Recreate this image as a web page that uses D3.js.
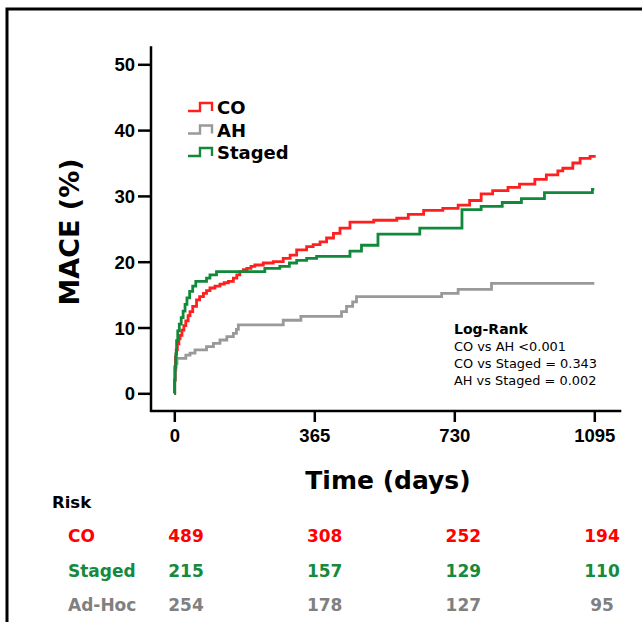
<!DOCTYPE html>
<html>
<head>
<meta charset="utf-8">
<script src="https://cdn.jsdelivr.net/npm/d3@7"></script>
<style>
  body { margin: 0; background: #fff; }
  svg { display: block; font-family: "DejaVu Sans", Verdana, sans-serif; }
  .axis text { font-weight: bold; font-size: 18.5px; fill: #000; }
  .axis line { stroke: #000; stroke-width: 2.5; }
</style>
</head>
<body>
<div id="chart"></div>
<script>
// tick values
var timeTicks = [0, 365, 730, 1095];
var maceTicks = [0, 10, 20, 30, 40, 50];

// CO curve (days, cumulative MACE %)
var coTimes = [0, 1, 2, 3, 5, 8, 12, 15, 20, 25, 30, 36, 41, 48, 58, 66, 76, 84, 93, 106, 119, 130, 141, 154, 163, 171, 180, 189, 200, 210, 232, 258, 284, 302, 319, 345, 362, 380, 397, 415, 432, 458, 520, 580, 610, 650, 700, 740, 770, 800, 830, 870, 900, 940, 970, 1000, 1013, 1039, 1058, 1084, 1095];
var coValues = [0, 2, 4, 5.5, 6.6, 7.5, 8.3, 8.8, 9.6, 10.3, 11, 11.8, 12.4, 13.2, 14.2, 14.7, 15.2, 15.6, 16, 16.3, 16.6, 16.8, 17, 17.5, 18, 18.5, 18.8, 19, 19.3, 19.5, 19.8, 20, 20.5, 21, 21.8, 22.3, 22.6, 23, 23.6, 24.3, 25.1, 26, 26.3, 26.6, 27.2, 27.8, 28.1, 28.6, 29.3, 30.3, 30.8, 31.3, 31.8, 32.5, 33.2, 33.8, 34.2, 35, 35.7, 36, 36.2];

// AH curve
var ahTimes = [0, 1, 2, 4, 7, 30, 41, 54, 84, 102, 119, 137, 154, 162, 167, 284, 330, 436, 449, 465, 475, 697, 740, 827, 1095];
var ahValues = [0, 2, 3.5, 4.5, 5.3, 5.8, 6.1, 6.6, 7.1, 7.6, 8.1, 8.6, 9.1, 9.7, 10.4, 11.1, 11.7, 12.4, 13.2, 13.9, 14.7, 15.2, 15.8, 16.7, 16.7];

// Staged curve
var stagedTimes = [0, 1, 2, 4, 6, 9, 13, 18, 23, 28, 33, 40, 48, 56, 84, 93, 110, 236, 275, 300, 319, 345, 371, 458, 488, 531, 640, 750, 800, 855, 905, 965, 1090, 1095];
var stagedValues = [0, 2, 4, 6, 8, 9.5, 10.5, 11.5, 12.5, 13.5, 14.5, 15.5, 16.3, 17, 17.5, 18, 18.5, 19, 19.3, 19.8, 20.2, 20.5, 20.8, 21.6, 22.5, 24.2, 25.1, 27.9, 28.4, 29, 29.6, 30.5, 31, 31];

// legend and risk table
var seriesNames = ["CO", "AH", "Staged"];
var seriesColors = ["#ff1f1f", "#999999", "#108a3a"];
var logRankLines = ["CO vs AH <0.001", "CO vs Staged = 0.343", "AH vs Staged = 0.002"];
var riskGroups = ["CO", "Staged", "Ad-Hoc"];
var riskColors = ["#ff0000", "#158a3c", "#808080"];
var riskCO = [489, 308, 252, 194];
var riskStaged = [215, 157, 129, 110];
var riskAdHoc = [254, 178, 127, 95];

var width = 642, height = 622;

var svg = d3.select("#chart").append("svg")
  .attr("width", width)
  .attr("height", height);

// frame
svg.append("path")
  .attr("d", "M7," + (height + 5) + "V9H" + (width + 5))
  .attr("fill", "none")
  .attr("stroke", "#000")
  .attr("stroke-width", 3);

var x = d3.scaleLinear().domain([0, 1095]).range([174.3, 594.3]);
var y = d3.scaleLinear().domain([0, 50]).range([393.3, 64.3]);

var axisX = 151, axisY = 411;

// y axis
var yAxis = svg.append("g")
  .attr("class", "axis")
  .attr("transform", "translate(" + axisX + ",0)")
  .call(d3.axisLeft(y).tickValues(maceTicks).tickSize(13).tickPadding(3));
yAxis.select(".domain").remove();
yAxis.selectAll("text").attr("dy", "0.36em");

// x axis
var xAxis = svg.append("g")
  .attr("class", "axis")
  .attr("transform", "translate(0," + axisY + ")")
  .call(d3.axisBottom(x).tickValues(timeTicks).tickFormat(d3.format("d")).tickSize(11).tickPadding(7));
xAxis.select(".domain").remove();

// axis lines
svg.append("line")
  .attr("x1", axisX).attr("x2", axisX)
  .attr("y1", y(50) - 18).attr("y2", axisY + 1)
  .attr("stroke", "#000").attr("stroke-width", 2.5);
svg.append("line")
  .attr("x1", axisX - 1).attr("x2", x(1095) + 27)
  .attr("y1", axisY).attr("y2", axisY)
  .attr("stroke", "#000").attr("stroke-width", 2.5);

// axis titles
svg.append("text")
  .text("Time (days)")
  .attr("x", 388)
  .attr("y", 489)
  .attr("text-anchor", "middle")
  .attr("font-weight", "bold")
  .attr("font-size", 25);

svg.append("text")
  .text("MACE (%)")
  .attr("transform", "translate(79,232) rotate(-90)")
  .attr("text-anchor", "middle")
  .attr("font-weight", "bold")
  .attr("font-size", 27);

// curves
var series = [
  { times: coTimes, values: coValues },
  { times: ahTimes, values: ahValues },
  { times: stagedTimes, values: stagedValues }
];

var line = d3.line()
  .x(function (d) { return x(d[0]); })
  .y(function (d) { return y(d[1]); })
  .curve(d3.curveStepAfter);

// draw AH first, then CO, then Staged on top
[1, 0, 2].forEach(function (k) {
  var s = series[k];
  var pts = s.times.map(function (t, i) { return [t, s.values[i]]; });
  svg.append("path")
    .datum(pts)
    .attr("d", line)
    .attr("fill", "none")
    .attr("stroke", seriesColors[k])
    .attr("stroke-width", 2.8);
});

// legend
var legend = svg.selectAll(".legend")
  .data(seriesNames)
  .enter()
  .append("g")
  .attr("class", "legend")
  .attr("transform", function (d, i) {
    return "translate(188," + (114 + i * 22.5) + ")";
  });

legend.append("path")
  .attr("d", "M0,-3H12V-11H24V-3")
  .attr("fill", "none")
  .attr("stroke", function (d, i) { return seriesColors[i]; })
  .attr("stroke-width", 2.4);

legend.append("text")
  .text(function (d) { return d; })
  .attr("x", 29)
  .attr("y", 0)
  .attr("font-weight", "bold")
  .attr("font-size", 18);

// log-rank box
svg.append("text")
  .text("Log-Rank")
  .attr("x", 454)
  .attr("y", 334)
  .attr("font-weight", "bold")
  .attr("font-size", 14);

svg.selectAll(".logrank")
  .data(logRankLines)
  .enter()
  .append("text")
  .attr("class", "logrank")
  .text(function (d) { return d; })
  .attr("x", 454)
  .attr("y", function (d, i) { return 351 + i * 17; })
  .attr("font-size", 12.9);

// risk table
svg.append("text")
  .text("Risk")
  .attr("x", 52)
  .attr("y", 508)
  .attr("font-weight", "bold")
  .attr("font-size", 16.5);

var riskX = d3.scalePoint().domain(timeTicks).range([186, 602]);
var riskRowY = d3.scalePoint().domain(riskGroups).range([542, 611]);
var riskData = [riskCO, riskStaged, riskAdHoc];

riskGroups.forEach(function (g, r) {
  var row = svg.append("g").attr("class", "risk-row");
  row.append("text")
    .text(g)
    .attr("x", 68)
    .attr("y", riskRowY(g))
    .attr("font-weight", "bold")
    .attr("font-size", 17)
    .attr("fill", riskColors[r]);
  row.selectAll(".risk-num")
    .data(riskData[r])
    .enter()
    .append("text")
    .attr("class", "risk-num")
    .text(function (d) { return d; })
    .attr("x", function (d, i) { return riskX(timeTicks[i]); })
    .attr("y", riskRowY(g))
    .attr("text-anchor", "middle")
    .attr("font-weight", "bold")
    .attr("font-size", 17)
    .attr("fill", riskColors[r]);
});
</script>
</body>
</html>
